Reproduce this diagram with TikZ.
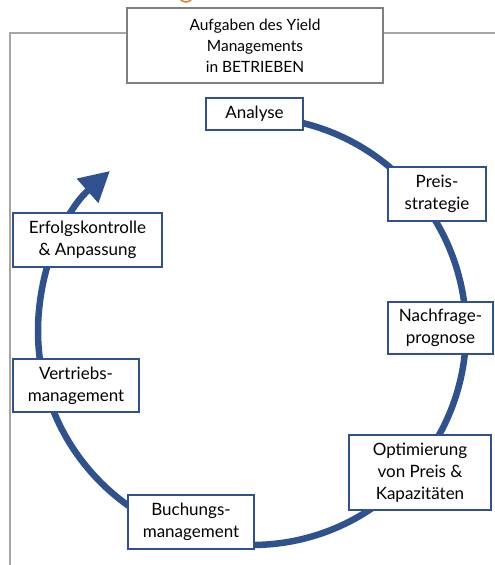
\documentclass[tikz,border=0pt]{standalone}
\usepackage{fontspec}
\setmainfont{Lato}
\usetikzlibrary{arrows.meta}
\definecolor{cycblue}{RGB}{47,82,143}
\definecolor{framegray}{RGB}{166,166,166}
\definecolor{titlegray}{RGB}{127,127,127}
\definecolor{topor}{RGB}{230,120,60}
\tikzset{
  stagebox/.style={draw=cycblue, line width=1.1pt, fill=white, rectangle, align=center,
    inner sep=0pt, font=\fontsize{17}{22}\selectfont},
  titlebox/.style={draw=titlegray, line width=1.3pt, fill=white, rectangle, align=center,
    inner sep=0pt, font=\fontsize{15.5}{21}\selectfont},
  frameline/.style={draw=framegray, line width=1.1pt},
  cycline/.style={draw=cycblue, line width=6.5pt, -{Triangle[length=30pt,width=31pt]}}
}
\begin{document}
\begin{tikzpicture}[x=1pt,y=1pt]
\useasboundingbox (0,0) rectangle (495,565);
% small orange arc cut off at the top
\draw[topor, line width=1.5pt] (186,570) ++(200:7) arc[start angle=200, end angle=340, radius=7];
% frame
\node[titlebox, minimum width=256pt, minimum height=75pt] (title) at (255,519.5)
  {Aufgaben des Yield\\Managements\\in BETRIEBEN};
\coordinate (fl) at (10,532);
\coordinate (fr) at (495,532);
\coordinate (fb) at (10,0);
\draw[frameline] (title.west |- fl) -- (fl) -- (fb);
\draw[frameline] (title.east |- fr) -- (fr);
% cycle
\coordinate (cc) at (252,234);
\draw[cycline] (cc) ++(90:214) arc[start angle=90, end angle=-228.4, radius=214];
% stages
\node[stagebox, minimum width=97pt, minimum height=32pt] (analyse) at (254.5,451) {Analyse};
\node[stagebox, minimum width=98pt, minimum height=54pt] (preis) at (437,371) {Preis-\\strategie};
\node[stagebox, minimum width=105pt, minimum height=52pt] (nachfrage) at (440.5,237) {Nachfrage-\\prognose};
\node[stagebox, minimum width=142pt, minimum height=75pt] (opt) at (420,92.5) {Optimierung\\von Preis \&\\Kapazitäten};
\node[stagebox, minimum width=126pt, minimum height=54pt] (buchung) at (191,43) {Buchungs-\\management};
\node[stagebox, minimum width=126pt, minimum height=53pt] (vertrieb) at (76,179.5) {Vertriebs-\\management};
\node[stagebox, minimum width=149pt, minimum height=54pt] (erfolg) at (87.5,325) {Erfolgskontrolle\\\& Anpassung};
\end{tikzpicture}
\end{document}
